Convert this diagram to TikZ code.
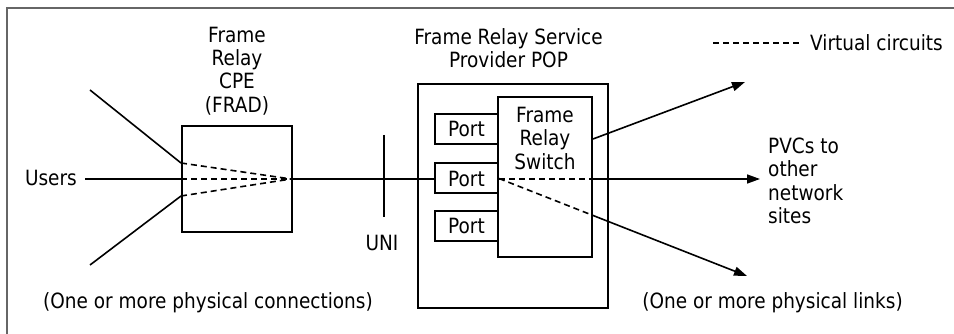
\documentclass[tikz,border=0pt]{standalone}
\usepackage{fontspec}
\setmainfont[FakeStretch=0.88]{DejaVu Sans}
\usetikzlibrary{arrows.meta}

\begin{document}
\begin{tikzpicture}[x=1pt,y=-1pt,
  lbl/.style={inner sep=0pt, align=center, font=\fontsize{21}{23.5}\selectfont},
  box/.style={draw, line width=2pt, inner sep=0pt, fill=white},
  portbox/.style={box, lbl, minimum width=63pt, minimum height=30pt},
  wire/.style={line width=1.6pt},
  vc/.style={line width=1.6pt, dash pattern=on 6pt off 4pt},
  arr/.style={wire, -{Triangle[length=13pt,width=9pt]}}]
\useasboundingbox (0,0) rectangle (954,334);
% frame
\draw[line width=1.5pt, color=black!60] (7,334) -- (7,8) -- (954,8);

% customer premises equipment
\node[box, minimum width=110pt, minimum height=106pt] (cpe) at (237,179) {};
\node[lbl, font=\fontsize{21}{23.3}\selectfont] (cpelbl) at (237,71) {Frame\\Relay\\CPE\\(FRAD)};

% provider point of presence
\node[box, minimum width=190pt, minimum height=224pt] (pop) at (513,196) {};
\node[lbl] (poplbl) at (508.5,48) {Frame Relay Service\\Provider POP};
\node[box, minimum width=94pt, minimum height=160pt] (sw) at (545,177) {};
\node[lbl] (swlbl) at (545,138) {Frame\\Relay\\Switch};
\node[portbox] (p1) at (466.5,129) {Port};
\node[portbox] (p2) at (466.5,178.5) {Port};
\node[portbox] (p3) at (466.5,226) {Port};

% users side
\node[lbl, anchor=east] (users) at (77,178) {Users};
\coordinate (u1) at (90,90);
\coordinate (u3) at (90,265);
\coordinate (c1) at ([yshift=16pt]cpe.west);
\coordinate (c3) at ([yshift=-17pt]cpe.west);
\coordinate (cx) at ([xshift=-2pt]cpe.east);
\draw[wire] (u1) -- (c1);
\draw[wire] (u3) -- (c3);
\draw[wire] ([xshift=8pt]users.east |- cpe.west) -- (cpe.west);
\draw[vc] (c1) -- (cx);
\draw[vc] (cpe.west) -- (cx);
\draw[vc] (c3) -- (cx);
\draw[wire] (cpe.east) -- (cpe.east -| p2.west);

% user-network interface
\coordinate (unitop) at (384,135);
\coordinate (unibot) at (384,217);
\draw[wire] (unitop) -- (unibot);
\node[lbl] (uni) at (382,243) {UNI};

% links to other sites
\coordinate (t1) at (745,82);
\coordinate (t2) at (760,179);
\coordinate (t3) at (747,276);
\coordinate (s2) at (sw.east |- cpe.east);
\coordinate (d3) at (intersection of p2.east--t3 and sw.north east--sw.south east);
\draw[vc] (cpe.east -| p2.east) -- (s2);
\draw[arr] (s2) -- (t2);
\draw[vc] (p2.east) -- (d3);
\draw[arr] (d3) -- (t3);
\draw[arr] ([yshift=38pt]sw.east) -- (t1);

\node[lbl, align=left, anchor=west] (pvc) at (768,181) {PVCs to\\other\\network\\sites};

% legend
\node[lbl, anchor=west] (leg) at (810,43) {Virtual circuits};
\coordinate (lg1) at (713,43);
\draw[vc] (lg1) -- ([xshift=-8pt]leg.west);

% notes
\node[lbl] (note1) at (208,303) {(One or more physical connections)};
\node[lbl] (note2) at (772.5,303) {(One or more physical links)};
\end{tikzpicture}
\end{document}
